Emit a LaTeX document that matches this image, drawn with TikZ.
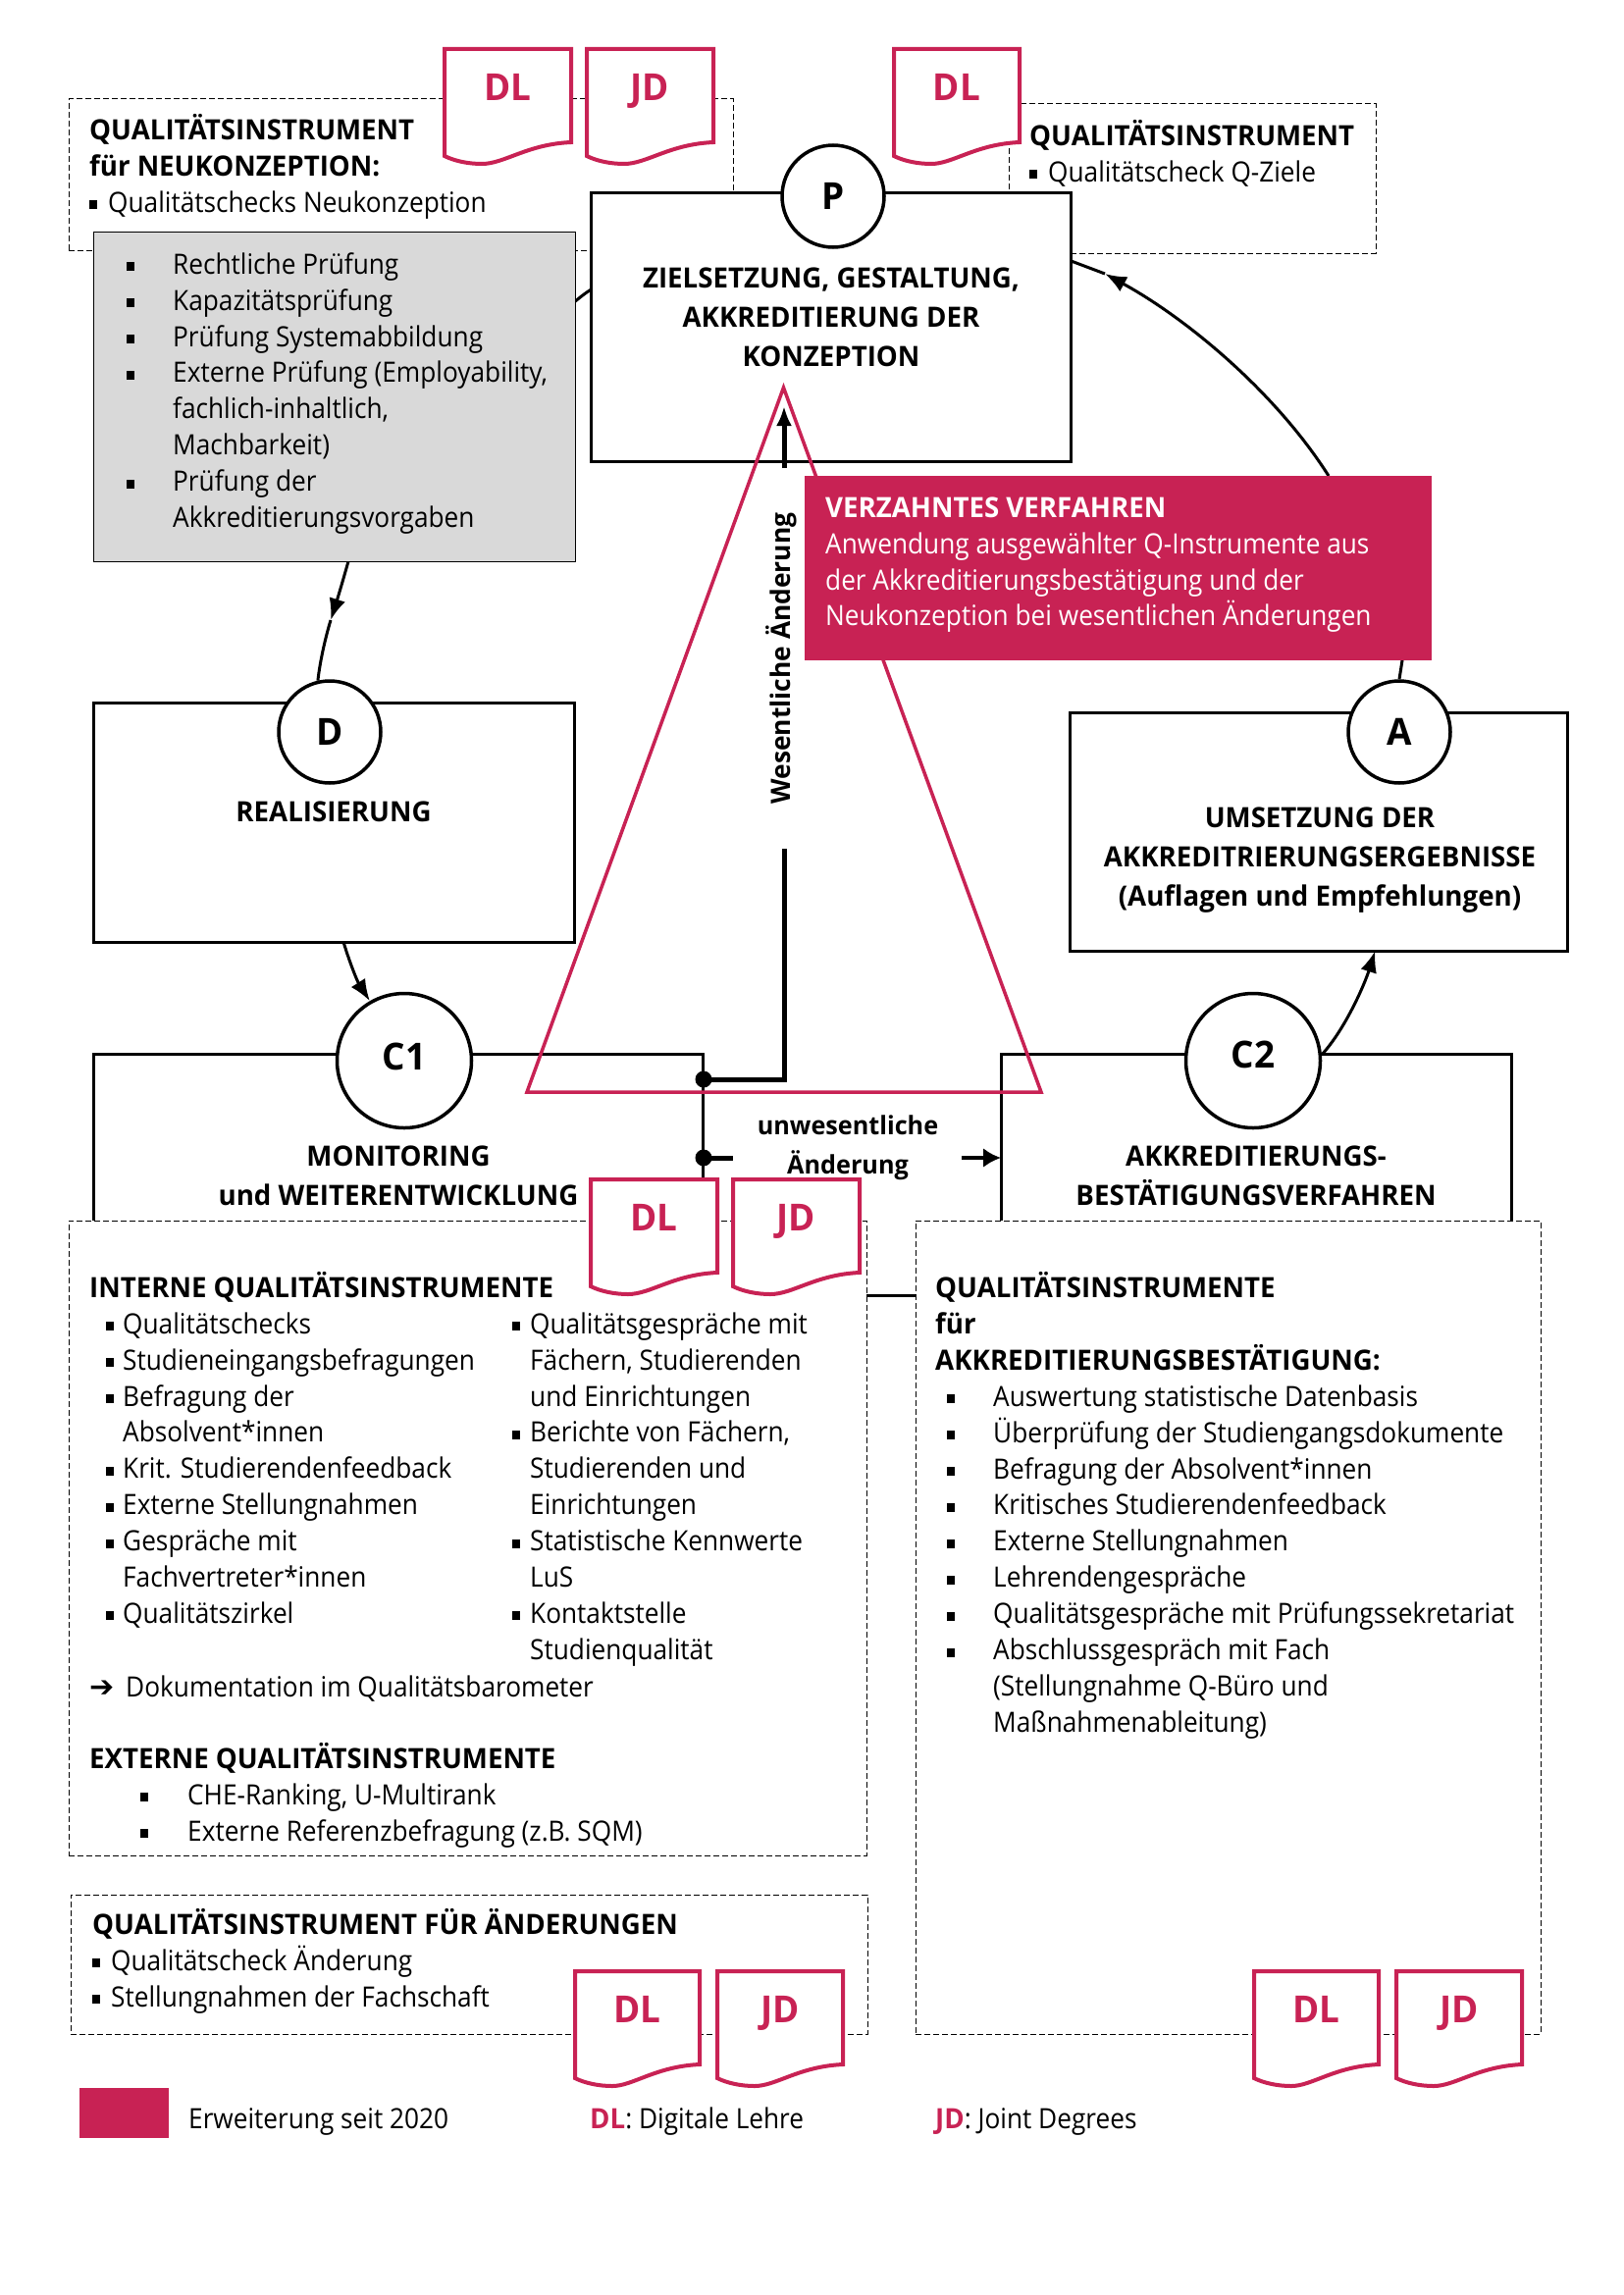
\documentclass[tikz,border=0pt]{standalone}
\usepackage{fontspec}
\setmainfont{Open Sans}[FakeStretch=0.92,BoldFeatures={FakeStretch=0.97}]
\newfontfamily\dejavu{DejaVu Sans}
\usetikzlibrary{arrows.meta,calc}
\definecolor{crim}{RGB}{200,34,84}
\definecolor{greybox}{RGB}{217,217,217}
\newcommand\tf{\fontsize{28.5}{36.9}\selectfont}
\newcommand\tfc{\fontsize{28.5}{40}\selectfont\bfseries}
\newcommand\mst{\rule[-11pt]{0pt}{45pt}}
\newcommand\bu{\rule[3pt]{8pt}{9pt}}
\newcommand\bl[1]{\makebox[#1][l]{\bu}}
\newcommand\ind[1]{\hspace*{#1}}
\tikzset{
  x=1pt,y=-1pt,
  txt/.style={anchor=north west,inner sep=0pt,yshift=23pt,align=left,font=\tf},
  ctxt/.style={anchor=north,inner sep=0pt,yshift=23pt,align=center,font=\tfc},
  blackbox/.style={draw=black,line width=3pt,fill=white,inner sep=0pt,outer sep=0pt,anchor=north west},
  dashbox/.style={draw=black,line width=1pt,dash pattern=on 6pt off 3pt,fill=white,inner sep=0pt,outer sep=0pt,anchor=north west},
  letter/.style={circle,draw=black,line width=3.5pt,fill=white,inner sep=0pt,font=\fontsize{38}{40}\selectfont\bfseries},
  conn/.style={draw=black,line width=3pt},
  tip/.style={-{Latex[length=22pt,width=17pt]}},
  heavy/.style={draw=black,line width=5pt},
  doclabel/.style={inner sep=0pt,text=crim,text height=27pt,text depth=0pt,font=\fontsize{38}{40}\selectfont\bfseries},
  dot/.style={circle,fill=black,inner sep=0pt,minimum size=17pt},
}
\newcommand\bx[6]{\node[#1,minimum width={(#5-#3)*1pt},minimum height={(#6-#4)*1pt}] (#2) at (#3,#4) {};}
\newcommand\docsh[5]{% name x y w label
  \begin{scope}[shift={(#2,#3)}]
  \path[draw=crim,fill=white,line width=4pt,miter limit=2]
    (0,0) -- (#4,0) -- (#4,95) .. controls (#4-45,97) and (#4-68,117) .. (38,117)
    .. controls (24,117) and (10,114) .. (0,109) -- cycle;
  \node[doclabel] (#1) at (#4/2,39) {#5};
  \end{scope}}
\begin{document}
\begin{tikzpicture}
\useasboundingbox[fill=white] (0,0) rectangle (1654,2339);

\coordinate (gapL) at (883,1320);
\coordinate (gapR) at (933,1320);
\coordinate (pmid) at (355,572);
\coordinate (dmid) at (337,632);
\coordinate (ap1) at (1429,673);
\coordinate (ap2) at (1354,485);
\coordinate (aptip) at (1126,279);

% top dashed boxes
\bx{dashbox}{dneu}{70}{101}{747}{255}
\bx{dashbox}{dzie}{1028}{106}{1402}{258}

% main boxes
\bx{blackbox}{pbox}{602.5}{196}{1091.5}{470}
\bx{blackbox}{dbox}{95}{716}{585}{960}
\bx{blackbox}{abox}{1090}{726}{1597}{969}
\bx{blackbox}{cabox}{95}{1074}{716}{1320}
\bx{blackbox}{cbbox}{1020}{1074}{1540}{1320}

\node[letter,minimum size=104pt] (pc) at (849,200) {\raisebox{-6pt}{P}};
\node[letter,minimum size=104pt] (dc) at (336,746) {\raisebox{-3pt}{D}};
\node[letter,minimum size=104pt] (ac) at (1426,746) {\raisebox{-3pt}{A}};
\node[letter,minimum size=137pt] (cac) at (412,1081) {\raisebox{9pt}{C1}};
\node[letter,minimum size=137pt] (cbc) at (1277,1081) {\raisebox{12pt}{C2}};

% connectors
\draw[conn] ($(pbox.west)+(0,-38)$) .. controls (560,320) and (400,500) .. (pmid);
\draw[conn,tip] (pmid) .. controls (350,590) and (344,610) .. (dmid);
\draw[conn] (dmid) .. controls (331,652) and (326,675) .. (dc.103);
\draw[conn,tip] ($(dbox.south)+(10,0)$) .. controls (356,980) and (364,1000) .. (cac.120);
\draw[conn,tip] (cbc.5) .. controls (1370,1050) and (1390,1005) .. ($(abox.south)+(58,0)$);
\draw[conn] (ac.north) -- (ap1);
\draw[conn,tip] (ap2) .. controls (1300,400) and (1210,325) .. (aptip);
\draw[conn] (aptip) -- (pbox.east |- 0,266);
\draw[conn] (gapL) -- (gapR);

% triangle
\draw[crim,line width=3.5pt,line join=miter] (798.5,395) -- (1061,1113) -- (537,1113) -- cycle;

% change arrows
\node[dot] (dota) at (717,1100) {};
\node[dot] (dotb) at (717,1180) {};
\coordinate (upstop) at (799,865);
\coordinate (uptail) at (799,477);
\coordinate (uptip) at (799,414);
\coordinate (rtail) at (980,1180);
\coordinate (rstub) at (747,1180);
\draw[heavy] (dota.center) -| (upstop);
\draw[heavy,-{Latex[length=20pt,width=16pt]}] (uptail) -- (uptip);
\draw[heavy] (dotb.center) -- (rstub);
\draw[line width=4pt,-{Latex[length=18pt,width=20pt]}] (rtail) -- (cbbox.west |- rtail);

% red box
\bx{draw=none,fill=crim,inner sep=0pt,outer sep=0pt,anchor=north west}{redb}{820}{485}{1459}{673}
\node[txt,text=white] (redt) at (841,516) {\mst\textbf{VERZAHNTES VERFAHREN}\\Anwendung ausgewählter Q-Instrumente aus\\der Akkreditierungsbestätigung und der\\Neukonzeption bei wesentlichen Änderungen};

% box labels
\node[ctxt] (pt) at (847,282) {\mst ZIELSETZUNG, GESTALTUNG,\\AKKREDITIERUNG DER\\KONZEPTION};
\node[ctxt] (dt) at (340,826) {\mst REALISIERUNG};
\node[ctxt] (at) at (1345,832) {\mst UMSETZUNG DER\\AKKREDITRIERUNGSERGEBNISSE\\(Auflagen und Empfehlungen)};
\node[ctxt] (ct) at (406,1177) {\mst MONITORING\\und WEITERENTWICKLUNG};
\node[ctxt] (bt) at (1280,1177) {\mst AKKREDITIERUNGS-\\BESTÄTIGUNGSVERFAHREN};
\node[ctxt,font=\fontsize{26}{40}\selectfont\bfseries] (ut) at (864,1145) {\mst unwesentliche\\Änderung};
\node[inner sep=0pt,rotate=90,font=\fontsize{27.2}{40}\selectfont\bfseries] (wt) at (796,671) {Wesentliche Änderung};

% top texts
\node[txt] (t1) at (91,131) {\mst\textbf{QUALITÄTSINSTRUMENT}\\\textbf{für NEUKONZEPTION:}\\\bl{19pt}Qualitätschecks Neukonzeption};
\node[txt] (t2) at (1049,137) {\mst\textbf{QUALITÄTSINSTRUMENT}\\\bl{19pt}Qualitätscheck Q-Ziele};

% grey box
\bx{draw=black,line width=1pt,fill=greybox,inner sep=0pt,outer sep=0pt,anchor=north west}{gbox}{95}{236}{586}{572}
\node[txt] (t3) at (129,268) {\mst\bl{47pt}Rechtliche Prüfung\\\bl{47pt}Kapazitätsprüfung\\\bl{47pt}Prüfung Systemabbildung\\\bl{47pt}Externe Prüfung (Employability,\\\ind{47pt}fachlich-inhaltlich,\\\ind{47pt}Machbarkeit)\\\bl{47pt}Prüfung der\\\ind{47pt}Akkreditierungsvorgaben};

% lower dashed boxes
\bx{dashbox}{dint}{70}{1244}{883}{1891}
\bx{dashbox}{dakk}{933}{1244}{1570}{2073}
\bx{dashbox}{daen}{72}{1931}{884}{2073}

\node[txt] (t4) at (91,1311) {\mst\textbf{INTERNE QUALITÄTSINSTRUMENTE}};
\node[txt] (t5) at (108,1348) {\mst\bl{17pt}Qualitätschecks\\\bl{17pt}Studieneingangsbefragungen\\\bl{17pt}Befragung der\\\ind{17pt}Absolvent*innen\\\bl{17pt}Krit. Studierendenfeedback\\\bl{17pt}Externe Stellungnahmen\\\bl{17pt}Gespräche mit\\\ind{17pt}Fachvertreter*innen\\\bl{17pt}Qualitätszirkel};
\node[txt] (t6) at (522,1348) {\mst\bl{18pt}Qualitätsgespräche mit\\\ind{18pt}Fächern, Studierenden\\\ind{18pt}und Einrichtungen\\\bl{18pt}Berichte von Fächern,\\\ind{18pt}Studierenden und\\\ind{18pt}Einrichtungen\\\bl{18pt}Statistische Kennwerte\\\ind{18pt}LuS\\\bl{18pt}Kontaktstelle\\\ind{18pt}Studienqualität};
\node[txt] (t7) at (91,1718) {\mst\makebox[37pt][l]{{\dejavu\bfseries\fontsize{30}{36.9}\selectfont ➔}}Dokumentation im Qualitätsbarometer};
\node[txt] (t8) at (91,1791) {\mst\textbf{EXTERNE QUALITÄTSINSTRUMENTE}};
\node[txt] (t9) at (143,1828) {\mst\bl{48pt}CHE-Ranking, U-Multirank\\\bl{48pt}Externe Referenzbefragung (z.B. SQM)};
\node[txt] (t10) at (953,1311) {\mst\textbf{QUALITÄTSINSTRUMENTE}\\\textbf{für}\\\textbf{AKKREDITIERUNGSBESTÄTIGUNG:}};
\node[txt] (t11) at (965,1422) {\mst\bl{47pt}Auswertung statistische Datenbasis\\\bl{47pt}Überprüfung der Studiengangsdokumente\\\bl{47pt}Befragung der Absolvent*innen\\\bl{47pt}Kritisches Studierendenfeedback\\\bl{47pt}Externe Stellungnahmen\\\bl{47pt}Lehrendengespräche\\\bl{47pt}Qualitätsgespräche mit Prüfungssekretariat\\\bl{47pt}Abschlussgespräch mit Fach\\\ind{47pt}(Stellungnahme Q-Büro und\\\ind{47pt}Maßnahmenableitung)};
\node[txt] (t12) at (94,1960) {\mst\textbf{QUALITÄTSINSTRUMENT FÜR ÄNDERUNGEN}\\\bl{19pt}Qualitätscheck Änderung\\\bl{19pt}Stellungnahmen der Fachschaft};

% document marks
\docsh{da}{453}{50}{129}{DL}
\docsh{ja}{598}{50}{129}{JD}
\docsh{db}{911}{50}{128}{DL}
\docsh{dc2}{602}{1202}{129}{DL}
\docsh{jc}{747}{1202}{129}{JD}
\docsh{dd}{586}{2009}{127}{DL}
\docsh{jd}{731}{2009}{128}{JD}
\docsh{de}{1278}{2009}{127}{DL}
\docsh{je}{1423}{2009}{128}{JD}

% legend
\bx{draw=none,fill=crim,inner sep=0pt,outer sep=0pt,anchor=north west}{leg}{81}{2128}{172}{2179}
\node[txt] (l1) at (192,2158) {\mst Erweiterung seit 2020};
\node[txt] (l2) at (601,2158) {\mst\textbf{\textcolor{crim}{DL}}: Digitale Lehre};
\node[txt] (l3) at (953,2158) {\mst\textbf{\textcolor{crim}{JD}}: Joint Degrees};
\end{tikzpicture}
\end{document}
